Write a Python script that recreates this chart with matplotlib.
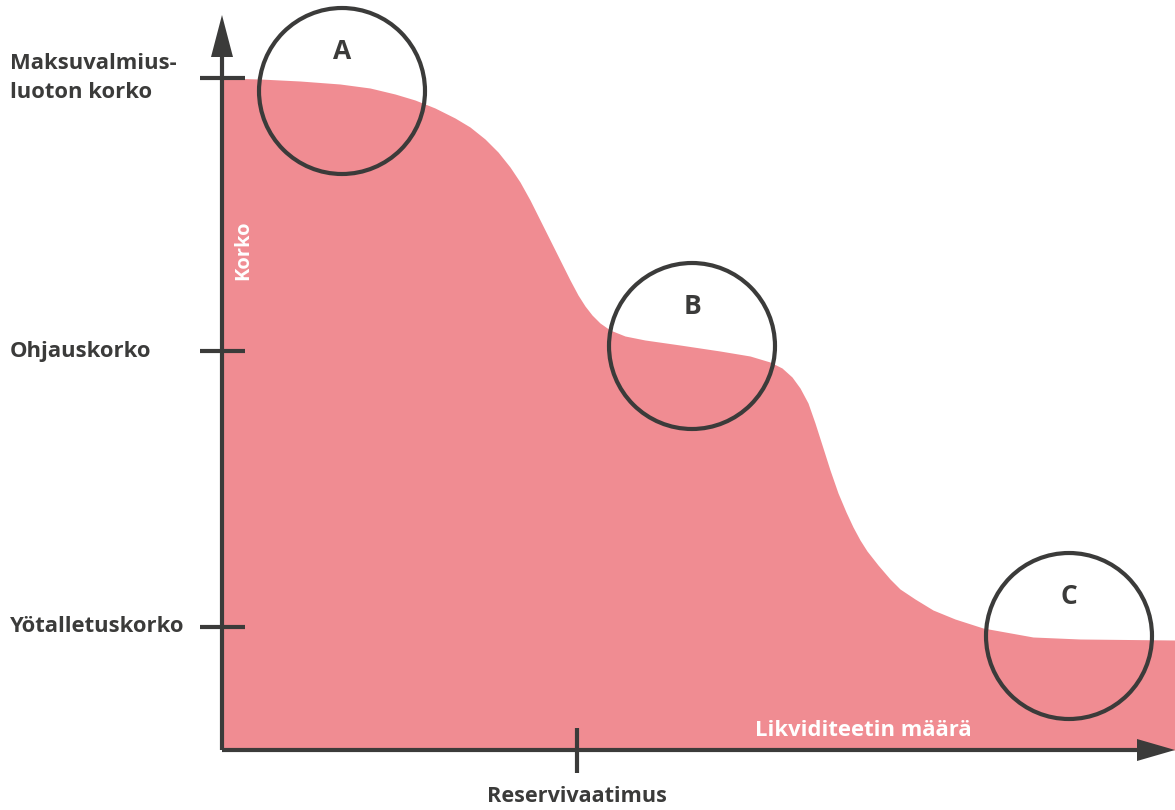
import matplotlib
matplotlib.use("Agg")
import matplotlib.pyplot as plt
from matplotlib.patches import Circle, Polygon

plt.rcParams["font.family"] = ["Open Sans", "DejaVu Sans"]

# curve of the rate (y) against liquidity (x), 1 unit = 10 px
liquidity = [0, 3.8, 7.8, 11.8, 14.8, 17.3, 19.3, 21.3, 23.3, 24.8, 26.3, 27.6,
             28.8, 29.8, 30.8, 31.8, 32.8, 33.8, 34.8, 35.6, 36.3, 37.0, 37.8,
             38.8, 40.3, 42.3, 45.8, 49.8, 52.8, 54.8, 56.0, 57.0, 57.8, 58.6,
             59.3, 60.1, 60.8, 61.6, 62.4, 63.1, 63.8, 64.5, 65.6, 66.8, 67.8,
             69.3, 71.1, 73.3, 76.1, 81.1, 85.8, 95.3]
rate = [67.2, 67.1, 66.9, 66.6, 66.2, 65.6, 65.0, 64.2, 63.2, 62.3, 61.1, 59.8,
        58.3, 56.8, 55.0, 53.0, 51.0, 49.0, 47.0, 45.5, 44.4, 43.5, 42.7,
        42.0, 41.4, 41.0, 40.5, 39.9, 39.4, 38.8, 38.2, 37.3, 36.2, 34.7,
        32.7, 30.2, 28.0, 25.7, 23.8, 22.3, 21.0, 19.9, 18.5, 17.1, 16.1,
        15.1, 14.0, 13.1, 12.2, 11.3, 11.1, 11.0]

rate_ticks = [67.2, 39.9, 12.3]
rate_labels = ["Maksuvalmius-\nluoton korko", "Ohjauskorko", "Yötalletuskorko"]
reserve_tick = 35.5
reserve_label = "Reservivaatimus"

zones = ["A", "B", "C"]
zone_x = [12.0, 47.0, 84.7]
zone_y = [65.9, 40.4, 11.4]

pink = "#F08C92"
dark = "#3b3b3a"

fig = plt.figure(figsize=(11.75, 8.1), dpi=100)
ax = fig.add_axes([0, 0, 1, 1])
ax.set_xlim(-22.2, 95.3)
ax.set_ylim(-6.0, 75.0)
ax.set_aspect("equal")
ax.axis("off")

ax.fill_between(liquidity, rate, 0, color=pink, lw=0, zorder=1)

# axes with arrow heads
ax.plot([0, 0], [0, 70], color=dark, lw=3, solid_capstyle="butt", zorder=3)
ax.plot([0, 92], [0, 0], color=dark, lw=3, solid_capstyle="butt", zorder=3)
ax.add_patch(Polygon([[-1.1, 69.3], [1.1, 69.3], [0, 73.5]], closed=True,
                     color=dark, lw=0, zorder=3))
ax.add_patch(Polygon([[91.5, -1.1], [91.5, 1.1], [95.3, 0]], closed=True,
                     color=dark, lw=0, zorder=3))

for yv, lab in zip(rate_ticks, rate_labels):
    ax.plot([-2.2, 2.3], [yv, yv], color=dark, lw=3, solid_capstyle="butt", zorder=3)
    ax.text(-21.2, yv, lab, ha="left", va="center", fontsize=15.8,
            fontweight="bold", color=dark, linespacing=1.45)

ax.plot([reserve_tick, reserve_tick], [2.2, -2.3], color=dark, lw=3,
        solid_capstyle="butt", zorder=3)
ax.text(reserve_tick, -4.7, reserve_label, ha="center", va="center",
        fontsize=15.6, fontweight="bold", color=dark)

ax.text(2.1, 50.0, "Korko", rotation=90, ha="center", va="center",
        fontsize=14.5, fontweight="bold", color="white")
ax.text(64.1, 2.0, "Likviditeetin määrä", ha="center", va="center",
        fontsize=15.8, fontweight="bold", color="white")

for lab, cx, cy in zip(zones, zone_x, zone_y):
    ax.add_patch(Circle((cx, cy), 8.3, fill=False, ec=dark, lw=3, zorder=4))
    ax.text(cx, cy + 3.9, lab, ha="center", va="center", fontsize=19,
            fontweight="bold", color=dark, zorder=5)

fig.savefig("out.png", dpi=100)
